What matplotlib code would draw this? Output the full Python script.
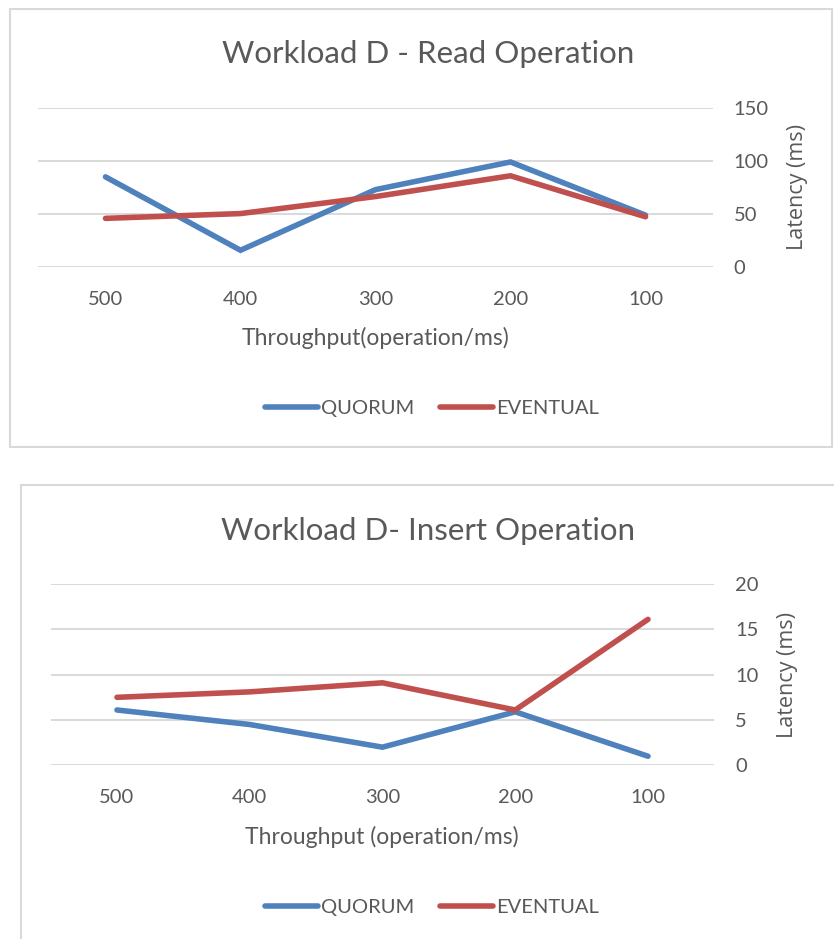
import numpy as np
import matplotlib.pyplot as plt
from matplotlib.patches import Rectangle

plt.rcParams['font.family'] = ['Lato', 'DejaVu Sans']

cats = ['500', '400', '300', '200', '100']
read_quorum = [85, 16, 73, 99, 49]
read_eventual = [46, 50.5, 66.5, 86, 47.5]
insert_quorum = [6.1, 4.5, 2.0, 5.9, 1.0]
insert_eventual = [7.5, 8.1, 9.1, 6.1, 16.1]

W, H = 834, 939
BLUE = '#4F81BD'
RED = '#C0504D'
GREY = '#595959'
GRID = '#D9D9D9'

fig = plt.figure(figsize=(W / 100, H / 100), dpi=100)


def px(x, y):
    return x / W, 1 - y / H


def panel(frame, plot, q, e, ylim, step, title, xlabel, title_y, xlab_x, xlab_y, leg_y, ylab_x):
    # panel border
    x0, y0, x1, y1 = frame
    fig.add_artist(Rectangle(px(x0, y1), (x1 - x0) / W, (y1 - y0) / H,
                             transform=fig.transFigure, fill=False,
                             edgecolor=GRID, lw=1.5))
    a0, b0, a1, b1 = plot
    ax = fig.add_axes([a0 / W, 1 - b1 / H, (a1 - a0) / W, (b1 - b0) / H])
    x = np.arange(len(cats))
    ax.plot(x, q, color=BLUE, lw=4, solid_capstyle='round',
            solid_joinstyle='miter', label='QUORUM')
    ax.plot(x, e, color=RED, lw=4, solid_capstyle='round',
            solid_joinstyle='miter', label='EVENTUAL')
    ax.set_xlim(-0.5, len(cats) - 0.5)
    ax.set_ylim(ylim)
    ax.set_xticks(x)
    ax.set_xticklabels(cats)
    ax.set_yticks(np.arange(ylim[0], ylim[1] + step / 2, step))
    ax.yaxis.tick_right()
    ax.grid(axis='y', color=GRID, lw=1.4)
    ax.set_axisbelow(True)
    for s in ax.spines.values():
        s.set_visible(False)
    ax.tick_params(length=0, labelsize=14.5, labelcolor=GREY)
    ax.tick_params(axis='y', pad=15)
    ax.tick_params(axis='x', pad=17)

    fig.text(*px(428, title_y), title, ha='center', va='center',
             fontsize=22.5, color=GREY)
    fig.text(*px(xlab_x, xlab_y), xlabel, ha='center', va='center',
             fontsize=16.5, color=GREY)
    fig.text(*px(ylab_x, (b0 + b1) / 2), 'Latency (ms)', ha='center',
             va='center', rotation=90, fontsize=15.5, color=GREY,
             family='Open Sans')
    fig.legend(handles=ax.get_lines(), loc='center',
               bbox_to_anchor=px(432, leg_y), ncol=2, frameon=False,
               fontsize=14.5, labelcolor=GREY, handlelength=2.6,
               handletextpad=0.15, columnspacing=1.3)


panel((10, 9, 832, 447), (38, 107.7, 713, 267.3), read_quorum, read_eventual,
      (0, 150), 50, 'Workload D - Read Operation', 'Throughput(operation/ms)',
      54, 375, 338, 408, 797)
panel((21, 485, 845, 950), (50.6, 584, 714.4, 765.3), insert_quorum, insert_eventual,
      (0, 20), 5, 'Workload D- Insert Operation', 'Throughput (operation/ms)',
      531, 382, 837, 907, 787)

fig.savefig('out.png', dpi=100)
